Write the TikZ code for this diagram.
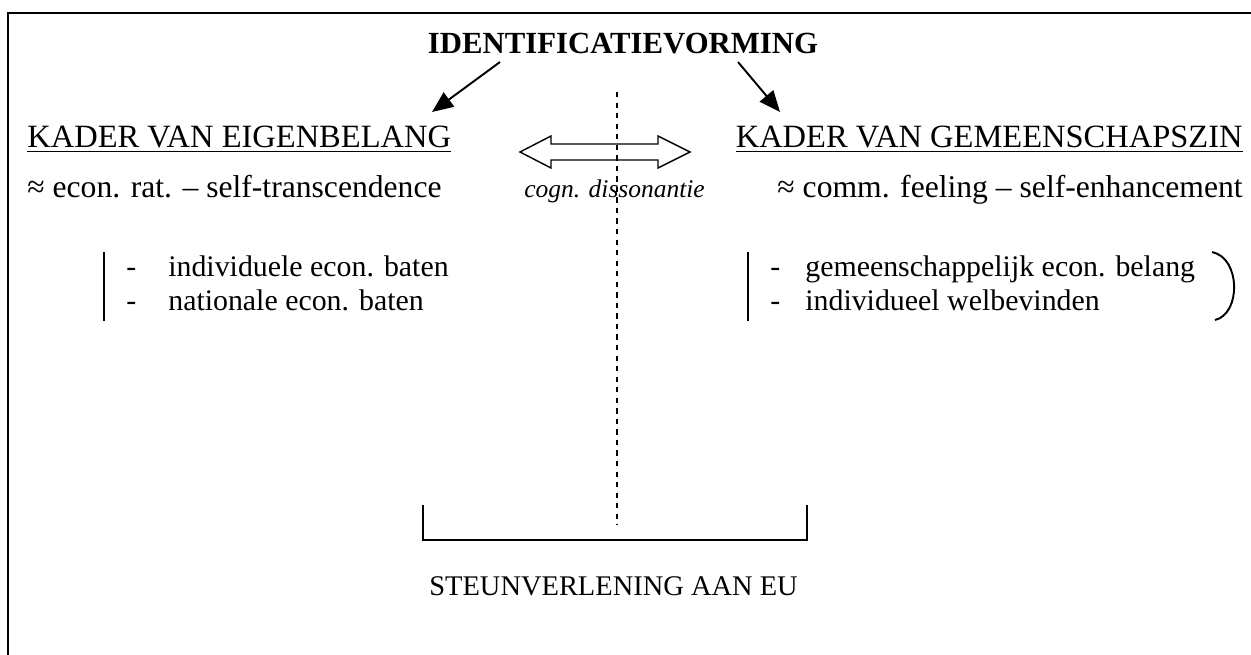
\documentclass[tikz,border=0pt]{standalone}
\usepackage{fontspec}
\setmainfont{Liberation Serif}
\usetikzlibrary{arrows.meta, positioning, calc}

\begin{document}
\begin{tikzpicture}[x=0.02cm, y=-0.02cm, inner sep=0pt,
    every node/.style={font=\fontsize{17}{19.5}\selectfont},
    head/.style={font=\fontsize{18.5}{20}\selectfont},
    link/.style={line width=1.1pt, -{Triangle[length=12pt, width=10pt]}},
    bar/.style={line width=1.1pt}]
    \useasboundingbox (0,0) rectangle (1251,655);
    % Frame
    \draw[line width=1.2pt] (8,670) -- (8,13) -- (1265,13);

    % Nodes
    \node (title) [anchor=base, font=\fontsize{17.5}{20}\selectfont\bfseries] at (623,54) {IDENTIFICATIEVORMING};
    \node (eigen) [head, anchor=base west] at (27,148) {\underline{KADER VAN EIGENBELANG}};
    \node (gemeen) [head, anchor=base east] at (1243,148) {\underline{KADER VAN GEMEENSCHAPSZIN}};
    \node (econ) [anchor=base west, font=\fontsize{18}{20}\selectfont] at (27,198) {≈ econ. rat. -- self-transcendence};
    \node (comm) [anchor=base east, font=\fontsize{18}{20}\selectfont] at (1243,198) {≈ comm. feeling -- self-enhancement};
    \node (cogn) [anchor=base west, font=\fontsize{14.5}{17}\selectfont\itshape] at (524,198) {cogn. dissonantie};
    \node (leftlist) [anchor=north west] at (126,252) {\begin{tabular}{@{}p{0.84cm}@{}l@{}}
        - & individuele econ. baten\\
        - & nationale econ. baten
    \end{tabular}};
    \node (rightlist) [anchor=north west] at (770,252) {\begin{tabular}{@{}p{0.7cm}@{}l@{}}
        - & gemeenschappelijk econ. belang\\
        - & individueel welbevinden
    \end{tabular}};
    \node (steun) [anchor=base west, font=\fontsize{16.2}{19}\selectfont] at (429,595) {STEUNVERLENING AAN EU};
    \coordinate (lstart) at (500,62);
    \coordinate (rstart) at (738,62);
    \coordinate (lend) at (432,112);
    \coordinate (rend) at (780,112);

    % Flows
    \draw[link] (lstart) -- (lend);
    \draw[link] (rstart) -- (rend);
    \draw[line width=0.8pt, dashed] (617,92) -- (617,525);

    % Double arrow
    \draw[line width=0.8pt] (520,152) -- (551,136) -- (551,144) -- (658,144) -- (658,136)
        -- (690,152) -- (658,168) -- (658,160) -- (551,160) -- (551,168) -- cycle;

    % Bars and bracket
    \draw[bar] ([xshift=-0.44cm]leftlist.north west) -- ([xshift=-0.44cm]leftlist.south west);
    \draw[bar] ([xshift=-0.44cm]rightlist.north west) -- ([xshift=-0.44cm]rightlist.south west);
    \draw[bar] (1212,252) .. controls (1241,258) and (1241,314) .. (1215,320);
    \draw[bar] (423,505) -- (423,540) -- (807,540) -- (807,505);
\end{tikzpicture}
\end{document}
